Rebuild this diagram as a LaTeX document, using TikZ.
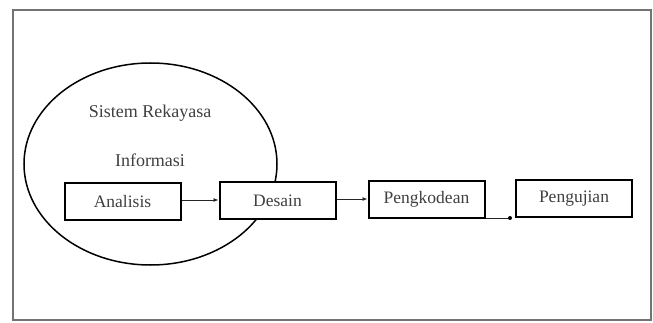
\documentclass[tikz,border=0pt]{standalone}
\usepackage{fontspec}
\setmainfont{Liberation Serif}
\usetikzlibrary{arrows.meta,shapes.geometric}
\begin{document}
\begin{tikzpicture}[x=1pt,y=-1pt,
  stepbox/.style={draw=black,line width=2pt,fill=white,minimum width=116pt,minimum height=37pt,inner sep=0pt,font=\fontsize{17.5}{19}\selectfont,text=black!75},
  conn/.style={draw=black!85,line width=0.8pt,-{Latex[length=5pt,width=4pt]}},
  lbl/.style={font=\fontsize{18}{20}\selectfont,text=black!75}]
\useasboundingbox (0,0) rectangle (653,323);
\draw[black!55,line width=1.6pt] (13,10) rectangle (651,320);
\node[draw=black,line width=1.5pt,ellipse,minimum width=253pt,minimum height=202pt,inner sep=0pt] (sys) at (150.5,164) {};
\node[lbl] (t1) at (150,113) {Sistem Rekayasa};
\node[lbl] (t2) at (150,160) {Informasi};
\node[stepbox] (an) at (122.5,201.5) {Analisis};
\node[stepbox] (de) at (277.5,201) {Desain};
\node[stepbox] (pk) at (426.5,199.5) {Pengkodean};
\node[stepbox] (pu) at (574,198.5) {Pengujian};
\draw[conn] (an.east |- 0,200) -- (de.west |- 0,200);
\draw[conn] (de.east |- 0,199) -- (pk.west |- 0,199);
\coordinate (end) at (510,218);
\draw[black!85,line width=0.8pt] (pk.east |- 0,218) -- (end);
\fill[black] (end) circle (2pt);
\end{tikzpicture}
\end{document}
